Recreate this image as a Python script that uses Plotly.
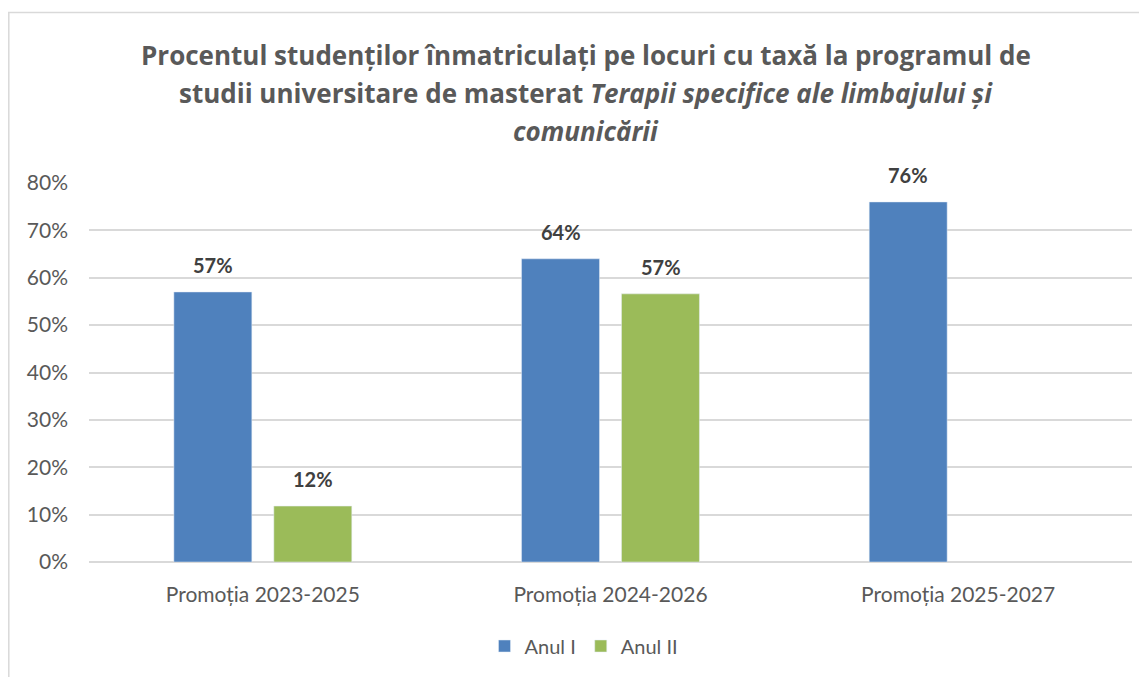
import plotly.graph_objects as go

categories = ["Promoția 2023-2025", "Promoția 2024-2026", "Promoția 2025-2027"]
anul_i = [0.57, 0.64, 0.76]
anul_ii = [0.118, 0.566, None]
series_names = ["Anul I", "Anul II"]
y_ticks = [0, 0.1, 0.2, 0.3, 0.4, 0.5, 0.6, 0.7, 0.8]
title_lines = [
    "Procentul studenților înmatriculați pe locuri cu taxă la programul de",
    "studii universitare de masterat <i>Terapii specifice ale limbajului și</i>",
    "<i>comunicării</i>",
]

W, H = 1147, 677
OFF = 8  # page body margin
# plot area in screen pixels: x 89..1132, y 183..562
SX0, SX1, SY0, SY1 = 89, 1132, 183, 562
L = SX0 - OFF
R = W - (SX1 - OFF)
T = SY0 - OFF
B = H - (SY1 - OFF)
ph = SY1 - SY0
pw = SX1 - SX0

FONT = "Lato"
GRAY = "#595959"
GRID = "#D9D9D9"
COLORS = ["#4F81BD", "#9BBB59"]


def py(ys):
    return (SY1 - ys) / ph


def px(xs):
    return (xs - SX0) / pw


fig = go.Figure()
for name, vals, col in zip(series_names, [anul_i, anul_ii], COLORS):
    fig.add_trace(go.Bar(x=categories, y=vals, name=name, marker=dict(color=col)))

# data labels above bars
for vals, shift in [(anul_i, -50), (anul_ii, 50)]:
    for c, v in zip(categories, vals):
        if v is None:
            continue
        fig.add_annotation(
            x=c, y=v, xref="x", yref="y", text=f"<b>{v:.0%}</b>",
            showarrow=False, xanchor="center", yanchor="bottom",
            xshift=shift, yshift=13,
            font=dict(family=FONT, size=20, color="#404040"),
        )

for line, ys in zip(title_lines, [55, 93, 131]):
    fig.add_annotation(
        text=f"<b>{line}</b>", xref="paper", yref="paper",
        x=px(586), y=py(ys), xanchor="center", yanchor="middle",
        showarrow=False,
        font=dict(family="Open Sans", size=26, color=GRAY),
    )

# chart frame lines (top and left)
fig.add_shape(type="line", xref="paper", yref="paper",
              x0=px(8), x1=px(W + 20), y0=py(12.5), y1=py(12.5),
              line=dict(color=GRID, width=1.5))
fig.add_shape(type="line", xref="paper", yref="paper",
              x0=px(8.8), x1=px(8.8), y0=py(12.5), y1=py(H + 20),
              line=dict(color=GRID, width=1.5))

fig.update_layout(
    width=W, height=H,
    margin=dict(l=L, r=R, t=T, b=B, pad=0),
    paper_bgcolor="white", plot_bgcolor="white",
    barmode="group", bargap=0.425, bargroupgap=0.22,
    font=dict(family=FONT, size=20, color=GRAY),
    showlegend=True,
    legend=dict(orientation="h", x=px(584), y=py(646), xanchor="center",
                yanchor="middle", font=dict(family=FONT, size=20, color=GRAY),
                itemwidth=30, traceorder="normal"),
    xaxis=dict(showline=False, showgrid=False, ticks="", ticklabelstandoff=18,
               tickfont=dict(family=FONT, size=21, color=GRAY)),
    yaxis=dict(range=[0, 0.8], tickvals=y_ticks, tickformat=".0%",
               showgrid=True, gridcolor=GRID, gridwidth=1.5,
               zeroline=True, zerolinecolor=GRID, zerolinewidth=1.5,
               showline=False, ticks="", ticklabelstandoff=20,
               tickfont=dict(family=FONT, size=21, color=GRAY)),
)

fig.write_html("out.html")
